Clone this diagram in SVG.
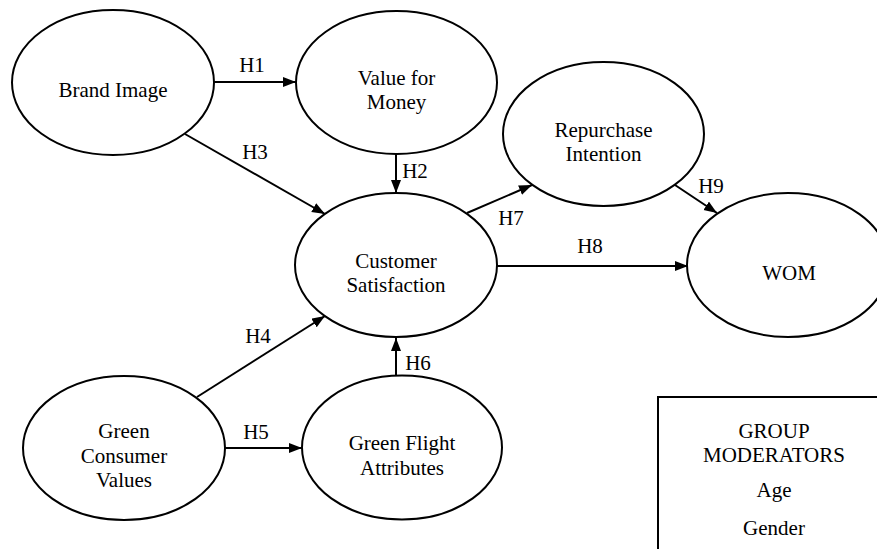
<svg xmlns="http://www.w3.org/2000/svg" width="877" height="549" viewBox="0 0 877 549">
<style>
.n{fill:#fff;stroke:#000;stroke-width:2}
.t{font-family:"Liberation Serif","Times New Roman",serif;font-size:21px;fill:#000;text-anchor:middle}
.c{stroke:#000;stroke-width:2;fill:none;marker-end:url(#ah)}
</style>
<defs>
<marker id="ah" markerUnits="userSpaceOnUse" markerWidth="14" markerHeight="11" refX="13" refY="5" orient="auto">
<path d="M0,0 L13,5 L0,10 Z" fill="#000"/>
</marker>
</defs>
<rect width="877" height="549" fill="#fff"/>
<g id="connectors">
<line class="c" x1="214" y1="82" x2="296" y2="82"/>
<line class="c" x1="396" y1="154" x2="396" y2="193"/>
<line class="c" x1="185" y1="134" x2="325" y2="214"/>
<line class="c" x1="197" y1="397" x2="325" y2="316"/>
<line class="c" x1="225" y1="448" x2="302" y2="448"/>
<line class="c" x1="396" y1="375" x2="396" y2="338"/>
<line class="c" x1="467" y1="213" x2="532" y2="185"/>
<line class="c" x1="497" y1="266" x2="688" y2="266"/>
<line class="c" x1="675" y1="185" x2="717" y2="213"/>
<text class="t" x="252" y="72">H1</text>
<text class="t" x="415" y="178">H2</text>
<text class="t" x="255" y="159">H3</text>
<text class="t" x="258" y="343">H4</text>
<text class="t" x="256" y="439">H5</text>
<text class="t" x="418" y="370">H6</text>
<text class="t" x="511" y="225">H7</text>
<text class="t" x="590" y="253">H8</text>
<text class="t" x="711" y="193">H9</text>
</g>
<g id="brand-image">
<ellipse class="n" cx="113" cy="82.5" rx="101" ry="72.5"/>
<text class="t" x="113" y="97">Brand Image</text>
</g>
<g id="value-for-money">
<ellipse class="n" cx="396.5" cy="82.5" rx="100.5" ry="71.5"/>
<text class="t" x="396.5" y="85">Value for</text>
<text class="t" x="396.5" y="109">Money</text>
</g>
<g id="customer-satisfaction">
<ellipse class="n" cx="396" cy="265" rx="101" ry="72"/>
<text class="t" x="396" y="268">Customer</text>
<text class="t" x="396" y="292">Satisfaction</text>
</g>
<g id="repurchase-intention">
<ellipse class="n" cx="603.5" cy="134" rx="100.5" ry="72"/>
<text class="t" x="603.5" y="137">Repurchase</text>
<text class="t" x="603.5" y="161">Intention</text>
</g>
<g id="wom">
<ellipse class="n" cx="788" cy="265" rx="101" ry="72"/>
<text class="t" x="789" y="280">WOM</text>
</g>
<g id="green-consumer-values">
<ellipse class="n" cx="124" cy="448" rx="101" ry="72"/>
<text class="t" x="124" y="438">Green</text>
<text class="t" x="124" y="463">Consumer</text>
<text class="t" x="124" y="487">Values</text>
</g>
<g id="green-flight-attributes">
<ellipse class="n" cx="402" cy="447.5" rx="100" ry="72"/>
<text class="t" x="402" y="450">Green Flight</text>
<text class="t" x="402" y="475">Attributes</text>
</g>
<g id="group-moderators">
<rect x="658" y="397" width="232" height="170" fill="#fff" stroke="#000" stroke-width="2"/>
<text class="t" x="774" y="438">GROUP</text>
<text class="t" x="774" y="462">MODERATORS</text>
<text class="t" x="774" y="497">Age</text>
<text class="t" x="774" y="535">Gender</text>
</g>
</svg>
